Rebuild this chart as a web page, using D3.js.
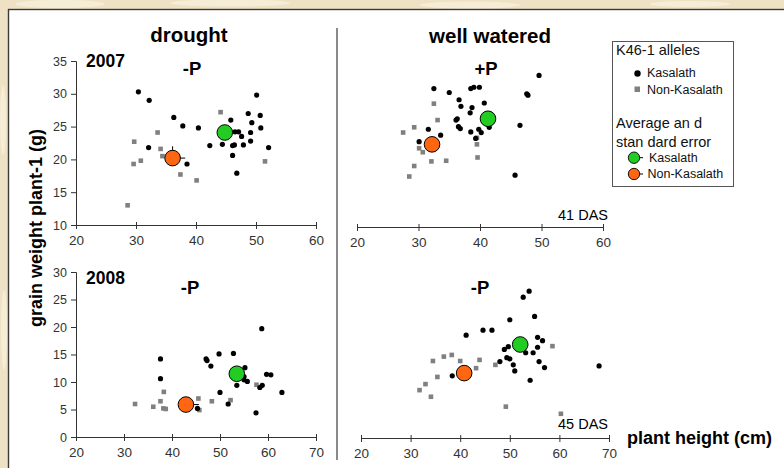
<!DOCTYPE html>
<html><head><meta charset="utf-8">
<script src="https://cdn.jsdelivr.net/npm/d3@7"></script>
<style>
html,body{margin:0;padding:0;background:#efe2c4;}
svg{display:block;}
text{font-family:"Liberation Sans",Arial,sans-serif;}
</style></head><body>
<svg id="c" width="784" height="468"></svg>
<script>
// ---------- data ----------
const xTicks41 = [20, 30, 40, 50, 60];
const yTicks41 = [10, 15, 20, 25, 30, 35];
const xTicks45 = [20, 30, 40, 50, 60, 70];
const yTicks45 = [0, 5, 10, 15, 20, 25, 30];

// 2007 drought -P (41 DAS)
const droughtKas41 = [[30.4,30.3],[32.2,29.0],[36.3,26.4],[37.8,25.1],[40.4,24.8],[32.1,21.8],[38.5,19.3],
  [42.3,22.1],[44.4,22.3],[45.8,26.0],[46.1,22.1],[46.4,22.2],[46.1,20.6],[46.8,17.9],[46.5,24.2],[47.1,24.2],
  [47.6,23.5],[47.9,22.2],[48.7,27.0],[49.1,24.1],[49.1,22.8],[49.3,25.6],[50.1,29.8],[50.7,26.7],[50.8,24.8],[52.1,21.8]];
const droughtNon41 = [[44.1,27.2],[33.6,24.1],[29.7,22.7],[34.1,21.6],[34.4,20.5],[30.8,19.8],[29.6,19.3],
  [37.4,17.7],[40.1,16.8],[28.6,13.0],[51.5,19.7]];
// 2007 well watered +P (41 DAS)
const wetKas41 = [[49.6,33.1],[32.5,31.1],[35.0,30.5],[38.5,31.1],[39.0,31.3],[39.9,31.3],[47.6,30.3],[47.8,30.1],
  [36.6,29.4],[36.9,28.4],[40.7,28.9],[38.7,28.2],[38.4,27.4],[36.3,26.5],[36.5,25.3],[41.5,25.2],[31.6,24.9],
  [38.5,24.5],[39.8,24.9],[40.2,24.4],[39.3,23.5],[33.6,24.0],[30.1,23.0],[46.5,25.5],[45.7,17.9],[36.1,26.3],[36.8,25.0]];
const wetNon41 = [[32.5,28.8],[33.1,26.3],[29.3,25.2],[27.5,24.4],[30.1,22.0],[30.7,21.4],[32.1,20.0],[34.5,20.1],
  [29.3,19.3],[28.5,17.7],[39.5,22.6],[39.6,20.6],[39.5,23.6]];
// 2008 drought -P (45 DAS)
const droughtKas45 = [[58.7,19.7],[37.6,14.2],[37.6,10.6],[47.1,14.2],[47.3,13.9],[49.8,15.1],[52.8,15.2],[48.1,12.9],
  [55.2,12.6],[55.0,11.0],[55.0,10.4],[55.7,10.1],[53.5,9.4],[50.0,8.1],[51.7,6.0],[45.3,5.2],[57.5,4.4],
  [59.7,11.4],[60.6,11.3],[58.3,9.0],[58.8,9.4],[62.9,8.1]];
const droughtNon45 = [[32.3,6.0],[36.1,5.5],[37.6,6.5],[38.3,8.2],[38.2,5.2],[38.7,5.1],[45.5,7.0],[45.7,4.9],
  [48.3,6.5],[52.2,6.7],[57.6,9.5]];
// 2008 well watered -P (45 DAS)
const wetKas45 = [[53.9,26.7],[52.7,25.6],[55.0,22.1],[50.0,21.5],[44.6,19.6],[46.4,19.6],[41.2,18.7],[55.6,18.3],
  [56.6,17.7],[55.6,16.5],[54.7,15.5],[53.2,15.5],[49.7,16.6],[48.9,16.1],[48.0,13.9],[49.4,14.6],[50.0,14.4],
  [50.7,13.3],[51.0,12.2],[55.9,13.9],[57.0,12.8],[54.1,10.5],[38.4,11.3],[68.0,13.1]];
const wetNon45 = [[58.6,16.7],[34.5,14.0],[36.7,14.8],[38.3,15.1],[40.0,14.0],[43.9,14.2],[43.2,12.7],[47.1,13.3],
  [35.4,11.1],[33.0,9.8],[31.8,8.7],[34.1,7.5],[49.2,5.7],[60.3,4.4]];

// averages [x, y] and standard errors [x, y] per panel (drought 2007, wet 2007, drought 2008, wet 2008)
const avgKas = [[44.8,24.1],[41.3,26.5],[53.5,11.5],[52.1,17.0]];
const avgNon = [[36.1,20.2],[32.2,22.6],[42.9,5.9],[40.8,11.8]];
const seKas  = [[1.0,0.9],[1.0,0.9],[1.2,0.9],[1.1,0.9]];
const seNon  = [[2.1,1.8],[1.0,0.9],[2.7,0.8],[1.0,0.9]];

const titles = ["drought", "well watered"];
const treatments = ["-P", "+P", "-P", "-P"];
const years = ["2007", "2008"];
const dasLabels = ["41 DAS", "45 DAS"];

// ---------- drawing ----------
const svg = d3.select("#c");

// textured background hint
const bg = svg.append("g");
bg.append("rect").attr("width",784).attr("height",468).attr("fill","#efe2c4");
[[60,4,90,8],[230,3,120,7],[470,5,100,7],[690,4,80,6],[3,120,6,70],[4,330,6,80]].forEach(e=>{
  bg.append("ellipse").attr("cx",e[0]).attr("cy",e[1]).attr("rx",e[2]/2).attr("ry",e[3]/2)
    .attr("fill","#f8f0dc").attr("opacity",0.8);
});

// white frame
svg.append("rect").attr("x",8.5).attr("y",9.5).attr("width",800).attr("height",480)
  .attr("fill","#ffffff").attr("stroke","#3a3a3a").attr("stroke-width",1.4);

// separator line
svg.append("line").attr("x1",337).attr("x2",337).attr("y1",28).attr("y2",460)
  .attr("stroke","#8a8a8a").attr("stroke-width",2);

const panels = [
  {xr:[76,316], yr:[225,61], xd:[20,60], yd:[10,35], xt:xTicks41, yt:yTicks41, showY:true, kas:droughtKas41, non:droughtNon41, i:0},
  {xr:[357,603], yr:[227,63], xd:[20,60], yd:[10,35], xt:xTicks41, yt:yTicks41, showY:false, kas:wetKas41, non:wetNon41, i:1},
  {xr:[76,316], yr:[437,272], xd:[20,70], yd:[0,30], xt:xTicks45, yt:yTicks45, showY:true, kas:droughtKas45, non:droughtNon45, i:2},
  {xr:[361,609], yr:[438,273], xd:[20,70], yd:[0,30], xt:xTicks45, yt:yTicks45, showY:false, kas:wetKas45, non:wetNon45, i:3}
];

const tickFont = '"Liberation Sans Narrow","Arial Narrow","DejaVu Sans Condensed","Liberation Sans",sans-serif';

panels.forEach(p => {
  const x = d3.scaleLinear().domain(p.xd).range(p.xr);
  const y = d3.scaleLinear().domain(p.yd).range(p.yr);
  const g = svg.append("g");

  const xa = g.append("g").attr("transform",`translate(0,${p.yr[0]})`)
    .call(d3.axisBottom(x).tickValues(p.xt).tickSize(4).tickPadding(6).tickFormat(d3.format("d")));
  xa.select(".domain").attr("stroke","#333");
  xa.selectAll(".tick line").attr("stroke","#333").attr("y1",-3);
  xa.selectAll("text").attr("font-family",tickFont).attr("font-size",13.5).attr("fill","#333");

  if (p.showY) {
    const ya = g.append("g").attr("transform",`translate(${p.xr[0]},0)`)
      .call(d3.axisLeft(y).tickValues(p.yt).tickSize(5).tickPadding(4).tickFormat(d3.format("d")));
    ya.select(".domain").attr("stroke","#333");
    ya.selectAll(".tick line").attr("stroke","#333");
    ya.selectAll("text").attr("font-family",tickFont).attr("font-size",12.5).attr("fill","#333");
  }

  // non-Kasalath squares
  g.selectAll("rect.non").data(p.non).enter().append("rect")
    .attr("x",d=>x(d[0])-2.3).attr("y",d=>y(d[1])-2.3).attr("width",4.6).attr("height",4.6)
    .attr("fill","#808080");
  // Kasalath points
  g.selectAll("circle.kas").data(p.kas).enter().append("circle")
    .attr("cx",d=>x(d[0])).attr("cy",d=>y(d[1])).attr("r",2.6).attr("fill","#000");

  // means with error bars (plus side)
  const means = [{m:avgNon[p.i], se:seNon[p.i], c:"#ff6611"},{m:avgKas[p.i], se:seKas[p.i], c:"#22cc22"}];
  means.forEach(mm => {
    const cx = x(mm.m[0]), cy = y(mm.m[1]);
    g.append("line").attr("x1",cx).attr("x2",x(mm.m[0]+mm.se[0])).attr("y1",cy).attr("y2",cy)
      .attr("stroke","#000").attr("stroke-width",1);
    g.append("line").attr("x1",cx).attr("x2",cx).attr("y1",cy).attr("y2",y(mm.m[1]+mm.se[1]))
      .attr("stroke","#000").attr("stroke-width",1);
    g.append("circle").attr("cx",cx).attr("cy",cy).attr("r",7.8)
      .attr("fill",mm.c).attr("stroke","#000").attr("stroke-width",1);
  });
});

// titles
const bold = (t,xp,yp,size,anchor) => svg.append("text").text(t).attr("x",xp).attr("y",yp)
  .attr("font-size",size).attr("font-weight","bold").attr("text-anchor",anchor||"middle").attr("fill","#000");
bold(titles[0],189,42,20.5);
bold(titles[1],490,43,20.5);
bold(years[0],86,67,17.5,"start");
bold(years[1],86,284,17.5,"start");
bold(treatments[0],192,75,18.5);
bold(treatments[1],486,75,18.5);
bold(treatments[2],190,294,18.5);
bold(treatments[3],480,294,18.5);
bold("plant height (cm)",627,444,18,"start");

svg.append("text").text("grain weight plant-1 (g)")
  .attr("transform","translate(42,228) rotate(-90)")
  .attr("text-anchor","middle").attr("font-size",18).attr("font-weight","bold").attr("fill","#000");

svg.append("text").text(dasLabels[0]).attr("x",608).attr("y",220).attr("text-anchor","end")
  .attr("font-size",14.5).attr("fill","#000");
svg.append("text").text(dasLabels[1]).attr("x",608).attr("y",429).attr("text-anchor","end")
  .attr("font-size",14.5).attr("fill","#000");

// legend
const lg = svg.append("g");
lg.append("rect").attr("x",612.5).attr("y",41.5).attr("width",121).attr("height",145)
  .attr("fill","#fff").attr("stroke","#555").attr("stroke-width",1);
const lt = (t,xp,yp,size) => lg.append("text").text(t).attr("x",xp).attr("y",yp)
  .attr("font-size",size).attr("fill","#111").attr("font-weight","300");
lt("K46-1 alleles",616,55,14.5);
lg.append("circle").attr("cx",637.5).attr("cy",73.5).attr("r",3.2).attr("fill","#000");
lt("Kasalath",647,77,12.5);
lg.append("rect").attr("x",634.5).attr("y",86.5).attr("width",5.5).attr("height",5.5).attr("fill","#808080");
lt("Non-Kasalath",647,93.5,12.5);
lt("Average an d",616,128,14.5);
lt("stan dard error",616,147,14.5);
[["#22cc22",157.7,"Kasalath",649],["#ff6611",174,"Non-Kasalath",647.5]].forEach(r=>{
  lg.append("line").attr("x1",634).attr("x2",643).attr("y1",r[1]).attr("y2",r[1]).attr("stroke","#000");
  lg.append("circle").attr("cx",634).attr("cy",r[1]).attr("r",5.7).attr("fill",r[0]).attr("stroke","#000").attr("stroke-width",0.9);
  lt(r[2],r[3],r[1]+4.3,12.5);
});
</script>
</body></html>
